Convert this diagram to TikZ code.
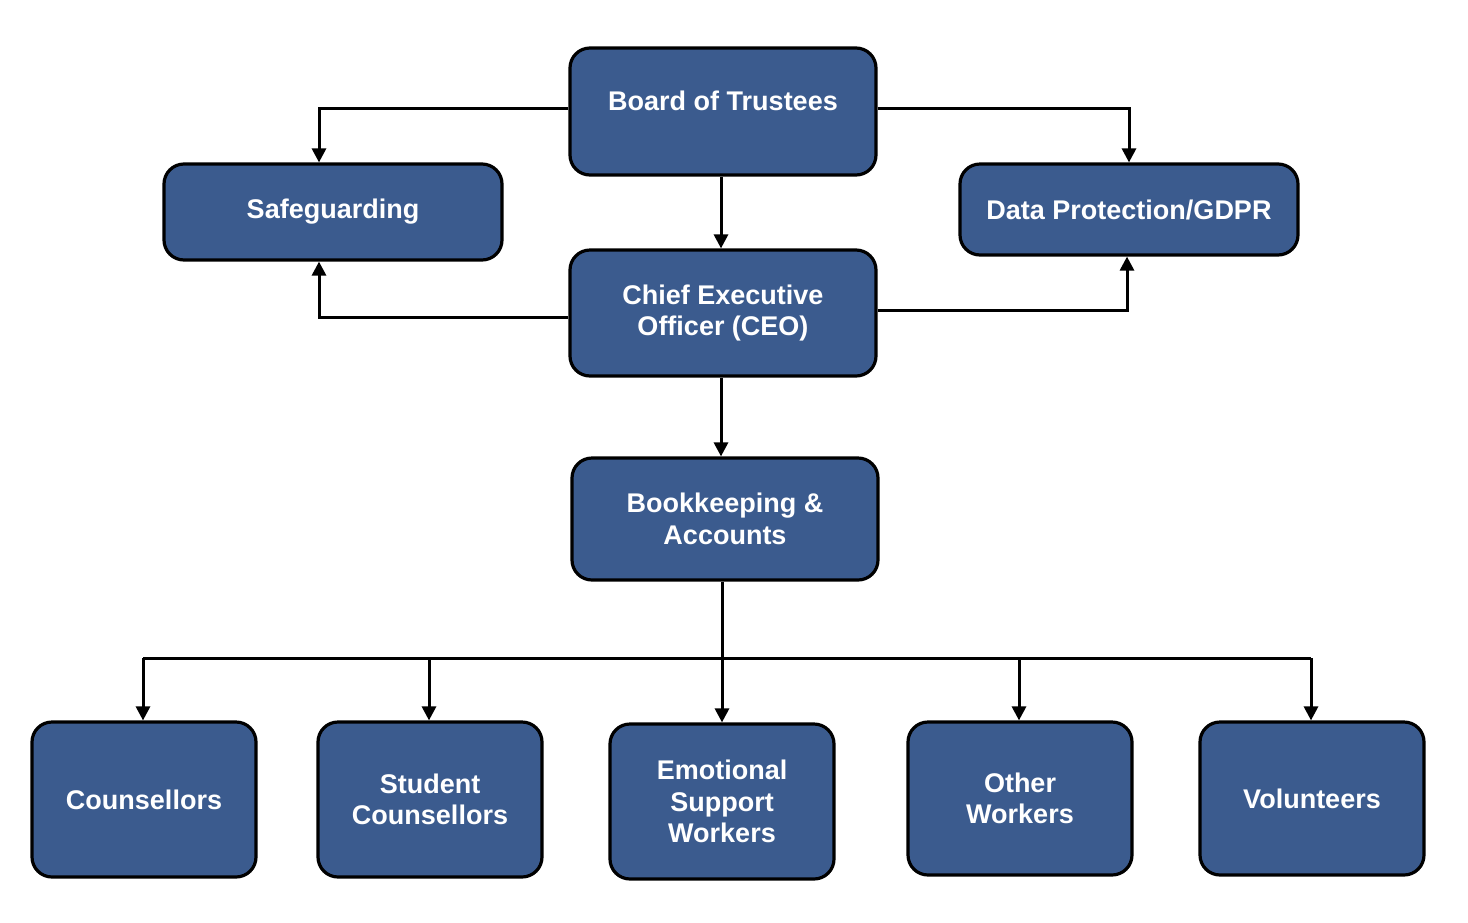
\documentclass[tikz,border=0pt]{standalone}
\usepackage{fontspec}
\setmainfont{Liberation Sans}
\usetikzlibrary{arrows.meta}
\definecolor{boxblue}{HTML}{3B5B8E}
\tikzset{
  orgbox/.style={draw=black, line width=3.2pt, fill=boxblue, rounded corners=20pt,
    text=white, align=center, inner sep=0pt,
    font=\bfseries\fontsize{27}{31.5}\selectfont},
  lbl/.style={text=white, align=center, inner sep=0pt, font=\bfseries\fontsize{27}{31.5}\selectfont},
  conn/.style={line width=3pt, -{Triangle[length=14pt,width=14pt]}},
  wire/.style={line width=3pt}
}
\begin{document}
\begin{tikzpicture}[x=1pt,y=-1pt]
\useasboundingbox (0,0) rectangle (1468,922);
% top
\node[orgbox, minimum width=306pt, minimum height=127pt] (bot) at (723,111.5) {};
\node[lbl] (botl) at (723,101) {Board of Trustees};
\node[orgbox, minimum width=338pt, minimum height=96pt] (saf) at (333,212) {Safeguarding};
\node[orgbox, minimum width=338pt, minimum height=91pt] (dp) at (1129,209.5) {Data Protection/GDPR};
\node[orgbox, minimum width=306pt, minimum height=126pt] (ceo) at (723,313) {Chief Executive\\Officer (CEO)};
\node[orgbox, minimum width=306pt, minimum height=122pt] (bk) at (725,519) {Bookkeeping \&\\Accounts};
% bottom row
\node[orgbox, minimum width=224pt, minimum height=155pt] (cou) at (144,799.5) {Counsellors};
\node[orgbox, minimum width=224pt, minimum height=155pt] (stu) at (430,799.5) {Student\\Counsellors};
\node[orgbox, minimum width=224pt, minimum height=155pt] (emo) at (722,801.5) {Emotional\\Support\\Workers};
\node[orgbox, minimum width=224pt, minimum height=153pt] (oth) at (1020,798.5) {Other\\Workers};
\node[orgbox, minimum width=224pt, minimum height=153pt] (vol) at (1312,798.5) {Volunteers};
% connectors
\draw[conn] (bot.west |- 0,108) -| (319,0 |- saf.north);
\draw[conn] (bot.east |- 0,108) -| (1129,0 |- dp.north);
\draw[conn] (721,0 |- bot.south) -- (721,0 |- ceo.north);
\draw[conn] (ceo.west |- 0,317) -| (319,0 |- saf.south);
\draw[conn] (ceo.east |- 0,310) -| (1127,0 |- dp.south);
\draw[conn] (721,0 |- ceo.south) -- (721,0 |- bk.north);
\coordinate (bus) at (722,658);
\draw[wire] (722,0 |- bk.south) -- (bus);
\draw[wire] (143,658) -- (1311,658);
\draw[conn] (143,658) -- (143,0 |- cou.north);
\draw[conn] (429,658) -- (429,0 |- stu.north);
\draw[conn] (722,658) -- (722,0 |- emo.north);
\draw[conn] (1019,658) -- (1019,0 |- oth.north);
\draw[conn] (1311,658) -- (1311,0 |- vol.north);
\end{tikzpicture}
\end{document}
